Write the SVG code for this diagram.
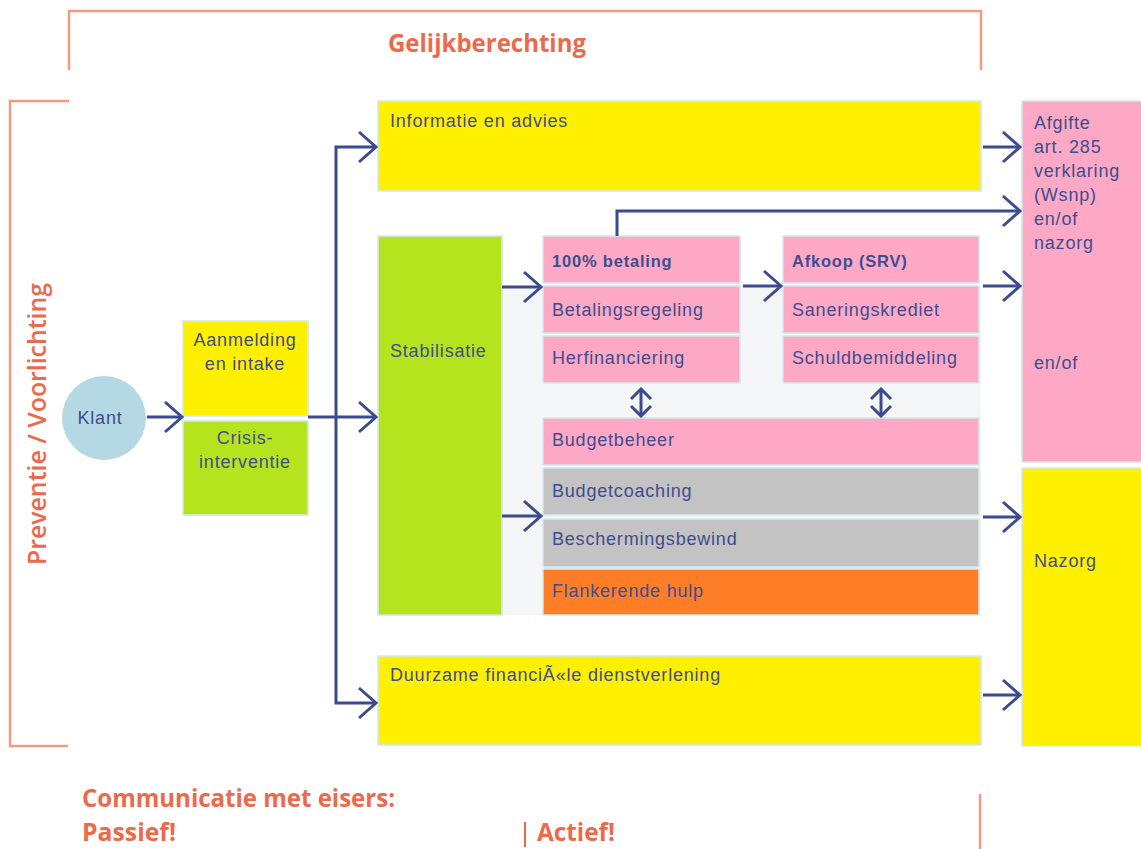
<svg xmlns="http://www.w3.org/2000/svg" width="1141" height="849" viewBox="0 0 1141 849">
<style>
.box{stroke:#d3e8ee;stroke-width:1.5}
.yel{fill:#fff000}.grn{fill:#b5e41e}.pnk{fill:#fda9c6}.gry{fill:#c3c3c3}.org{fill:#fe7e27}
.t{font-family:"Liberation Sans",Arial,sans-serif;font-size:18px;fill:#3f4d8e;letter-spacing:0.8px}
.tb{font-family:"Liberation Sans",Arial,sans-serif;font-size:16.5px;font-weight:bold;fill:#3f4d8e;letter-spacing:0.8px}
.c{text-anchor:middle}
.h{font-family:"Liberation Sans",Arial,sans-serif;font-weight:bold;fill:#ec6a4c}
.hs{font-family:"Open Sans","Liberation Sans",sans-serif;font-weight:600;fill:#ec6a4c}
.br{fill:none;stroke:#f29a82;stroke-width:2.5}
.con{fill:none;stroke:#3c4a8e;stroke-width:3}
.arr{marker-end:url(#ah)}
.dbl{marker-start:url(#sh);marker-end:url(#sh)}
</style>
<defs>
<marker id="ah" markerUnits="userSpaceOnUse" viewBox="0 0 22 34" refX="19" refY="17" markerWidth="22" markerHeight="34" orient="auto">
<path d="M2,2 L19,17 L2,32" fill="none" stroke="#3c4a8e" stroke-width="3"/>
</marker>
<marker id="sh" markerUnits="userSpaceOnUse" viewBox="0 0 14 24" refX="12" refY="12" markerWidth="14" markerHeight="24" orient="auto-start-reverse">
<path d="M2,2 L12,12 L2,22" fill="none" stroke="#3c4a8e" stroke-width="3"/>
</marker>
</defs>
<rect width="1141" height="849" fill="#ffffff"/>

<g id="frames">
<path class="br" d="M69,70 L69,11 L981,11 L981,70"/>
<path class="br" d="M69,101 L10,101 L10,746 L68,746"/>
<line x1="980" y1="794" x2="980" y2="849" class="br"/>
<line x1="525" y1="822" x2="525" y2="847" stroke="#ec6a4c" stroke-width="2"/>
<rect x="502" y="285" width="479" height="330" fill="#f4f6f8"/>
</g>

<g id="labels">
<text class="hs c" x="487" y="52" font-size="25" font-weight="700" style="font-weight:700" textLength="198" lengthAdjust="spacingAndGlyphs">Gelijkberechting</text>
<text class="hs c" transform="translate(46,424) rotate(-90)" font-size="26" textLength="282" lengthAdjust="spacingAndGlyphs">Preventie / Voorlichting</text>
<text class="hs" x="82" y="807" font-size="25" style="font-weight:700" textLength="313" lengthAdjust="spacingAndGlyphs">Communicatie met eisers:</text>
<text class="hs" x="82" y="841" font-size="25" style="font-weight:700" textLength="94" lengthAdjust="spacingAndGlyphs">Passief!</text>
<text class="hs" x="537" y="841" font-size="25" style="font-weight:700" textLength="78" lengthAdjust="spacingAndGlyphs">Actief!</text>
</g>

<g id="klant">
<circle cx="104" cy="418" r="42" fill="#b4d9e4"/>
<text class="t c" x="100" y="424">Klant</text>
</g>
<g id="aanmelding">
<rect class="box yel" x="183" y="321" width="125" height="95"/>
<text class="t c" x="245" y="346">Aanmelding</text>
<text class="t c" x="245" y="370">en intake</text>
</g>
<g id="crisis">
<rect class="box grn" x="183" y="421" width="125" height="94"/>
<text class="t c" x="245" y="444">Crisis-</text>
<text class="t c" x="245" y="468">interventie</text>
</g>
<g id="informatie">
<rect class="box yel" x="378" y="101" width="603" height="90"/>
<text class="t" x="390" y="127">Informatie en advies</text>
</g>
<g id="stabilisatie">
<rect class="box grn" x="378" y="236" width="124" height="379"/>
<text class="t" x="390" y="357">Stabilisatie</text>
</g>
<g id="betaling100">
<rect class="box pnk" x="543" y="236" width="197" height="47"/>
<text class="tb" x="552" y="267">100% betaling</text>
</g>
<g id="betalingsregeling">
<rect class="box pnk" x="543" y="286" width="197" height="47"/>
<text class="t" x="552" y="316">Betalingsregeling</text>
</g>
<g id="herfinanciering">
<rect class="box pnk" x="543" y="336" width="197" height="47"/>
<text class="t" x="552" y="364">Herfinanciering</text>
</g>
<g id="afkoop">
<rect class="box pnk" x="783" y="236" width="196" height="47"/>
<text class="tb" x="792" y="267">Afkoop (SRV)</text>
</g>
<g id="saneringskrediet">
<rect class="box pnk" x="783" y="286" width="196" height="47"/>
<text class="t" x="792" y="316">Saneringskrediet</text>
</g>
<g id="schuldbemiddeling">
<rect class="box pnk" x="783" y="336" width="196" height="47"/>
<text class="t" x="792" y="364">Schuldbemiddeling</text>
</g>
<g id="budgetbeheer">
<rect class="box pnk" x="543" y="418" width="436" height="47"/>
<text class="t" x="552" y="446">Budgetbeheer</text>
</g>
<g id="budgetcoaching">
<rect class="box gry" x="543" y="468" width="436" height="47"/>
<text class="t" x="552" y="497">Budgetcoaching</text>
</g>
<g id="beschermingsbewind">
<rect class="box gry" x="543" y="519" width="436" height="48"/>
<text class="t" x="552" y="545">Beschermingsbewind</text>
</g>
<g id="flankerende">
<rect class="box org" x="543" y="569" width="436" height="46"/>
<text class="t" x="552" y="597">Flankerende hulp</text>
</g>
<g id="duurzame">
<rect class="box yel" x="378" y="656" width="603" height="89"/>
<text class="t" x="390" y="681">Duurzame financiÃ«le dienstverlening</text>
</g>
<g id="afgifte">
<rect class="box pnk" x="1022" y="101" width="125" height="361"/>
<text class="t" x="1034" y="129">Afgifte</text>
<text class="t" x="1034" y="153">art. 285</text>
<text class="t" x="1034" y="177">verklaring</text>
<text class="t" x="1034" y="201">(Wsnp)</text>
<text class="t" x="1034" y="225">en/of</text>
<text class="t" x="1034" y="249">nazorg</text>
<text class="t" x="1034" y="369">en/of</text>
</g>
<g id="nazorg">
<rect class="box yel" x="1022" y="468" width="125" height="278"/>
<text class="t" x="1034" y="567">Nazorg</text>
</g>

<g id="connectors">
<path class="con arr" d="M147,417 L182,417"/>
<path class="con arr" d="M308,417 L376,417"/>
<path class="con arr" d="M336,417 L336,147 L376,147"/>
<path class="con arr" d="M336,417 L336,703 L376,703"/>
<path class="con arr" d="M502,287 L541,287"/>
<path class="con arr" d="M502,516 L541,516"/>
<path class="con arr" d="M743,286 L781,286"/>
<path class="con arr" d="M617,236 L617,211 L1020,211"/>
<path class="con arr" d="M983,147 L1020,147"/>
<path class="con arr" d="M983,286 L1020,286"/>
<path class="con arr" d="M983,517 L1020,517"/>
<path class="con arr" d="M983,695 L1020,695"/>
<path class="con dbl" d="M641,389 L641,416"/>
<path class="con dbl" d="M881,389 L881,416"/>
</g>
</svg>
